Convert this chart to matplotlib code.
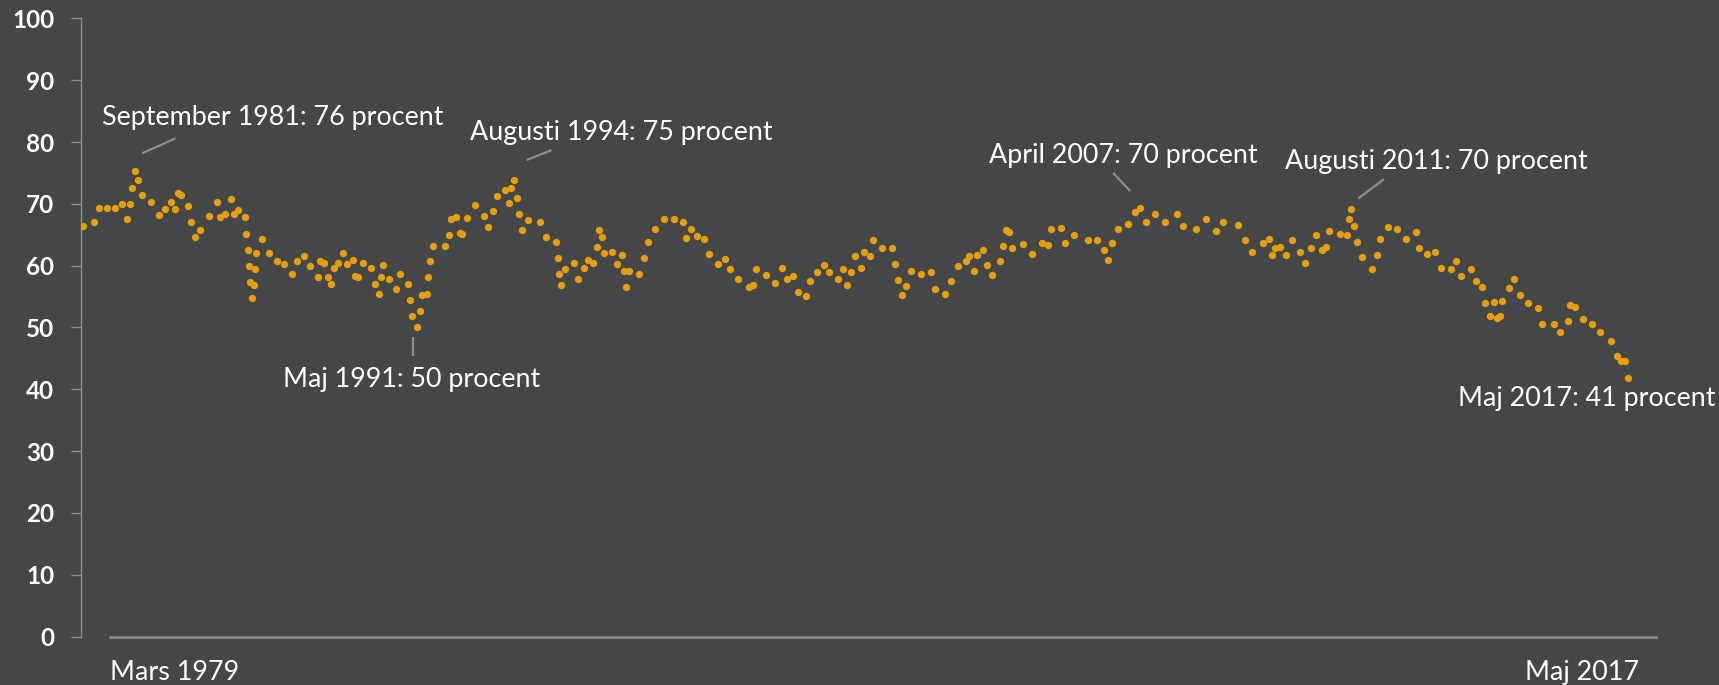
import matplotlib.pyplot as plt

# manad efter mars 1979 (0 = mars 1979, 458 = maj 2017) och andel i procent, avlast ur diagrammet
manad = [
    0.1, 3.4, 4.6, 7.1, 9.6, 11.6, 12.9, 13.8, 14.5, 15.3, 16.2, 17.6, 20.1, 22.6, 24.2,
    26.1, 27.3, 28.1, 29.1, 31.2, 32.1, 33.3, 34.7, 37.4, 39.7, 40.7, 42.2, 43.8, 44.9,
    46.0, 47.9, 48.3, 48.8, 49.2, 49.6, 50.2, 50.6, 51.0, 51.4, 53.0, 55.0, 57.4, 59.6,
    61.9, 63.4, 65.4, 67.2, 69.6, 70.4, 71.5, 72.7, 73.5, 74.3, 75.5, 77.0, 78.3, 79.9,
    80.7, 81.6, 83.0, 85.5, 86.6, 87.7, 88.2, 89.0, 90.7, 92.8, 93.9, 96.3, 97.0, 97.5,
    99.0, 99.8, 100.4, 101.9, 102.3, 102.8, 103.7, 107.2, 108.6, 109.2, 110.7, 111.9,
    112.5, 113.7, 116.2, 118.8, 120.0, 121.6, 122.8,
    125.0, 126.2, 126.9, 127.9, 128.8, 129.4, 130.0, 132.0, 135.4, 137.2, 140.3, 140.7,
    141.2, 141.8, 142.9, 145.5, 146.6, 148.4, 149.7, 151.3, 152.4, 153.0, 153.8, 154.5,
    156.8, 158.2, 159.7, 160.3, 160.9, 162.0, 164.8, 166.2, 167.5, 169.5, 172.3, 175.2,
    177.8, 178.7, 180.3, 182.1, 184.1, 185.6,
    188.3, 190.2, 191.9, 194.2, 197.5, 198.6, 199.5, 202.6, 205.1, 207.1, 208.7, 210.5,
    211.9, 214.3, 215.5, 217.6, 219.7, 221.3, 223.9, 225.4, 226.4, 227.8, 229.0, 230.5,
    231.5, 233.3, 234.1, 236.8, 239.7, 240.8, 241.5, 242.7, 244.1, 245.5, 248.5,
    251.4, 252.7, 255.5, 257.3, 259.3, 261.7, 262.8, 264.0, 265.1, 266.8, 268.0, 269.5,
    271.9, 272.8, 273.6, 274.5, 275.4, 278.7, 281.2, 284.2, 286.0, 286.9, 289.9, 291.0,
    293.9, 297.9, 300.5, 302.7, 303.9, 305.0, 306.9, 309.8, 311.9, 313.5,
    315.2, 317.8, 320.9, 324.4, 326.2, 330.1, 332.9, 336.0, 338.1, 342.4, 344.4, 346.5,
    349.8, 351.5, 352.4, 353.4, 355.0, 356.7, 358.4, 360.8, 362.2, 364.0, 365.6, 367.2,
    368.5, 369.4, 372.7, 374.6, 375.3, 376.0, 376.9, 377.8,
    379.1, 382.1, 383.6, 384.5, 386.8, 389.6, 392.1, 395.1, 396.1, 398.3, 400.8, 402.6,
    405.7, 407.0, 408.5, 411.4, 413.0, 414.8, 415.7, 417.0, 418.3, 419.2, 420.0, 420.6,
    422.7, 424.2, 425.9, 428.3, 431.4, 432.6, 436.0, 437.9, 440.3, 440.9, 442.2, 444.8,
    447.3, 449.7, 453.1, 454.9, 456.0, 457.1, 458.0,
]
procent = [
    66.4, 67.0, 69.4, 69.4, 69.4, 70.0, 67.5, 70.0, 72.6, 75.3, 73.9, 71.5, 70.3, 68.2, 69.1,
    70.3, 69.1, 71.7, 71.5, 69.7, 67.1, 64.6, 65.8, 68.0, 70.3, 67.9, 68.4, 70.8, 68.4,
    69.0, 67.8, 65.2, 62.6, 60.0, 57.4, 54.8, 56.9, 59.5, 62.1, 64.4, 62.0, 60.8, 60.2,
    58.7, 60.8, 61.6, 59.9, 58.2, 60.8, 60.5, 58.1, 57.0, 59.6, 60.5, 62.0, 60.3, 61.0,
    58.4, 58.2, 60.4, 59.6, 57.0, 55.5, 58.2, 60.1, 57.9, 56.2, 58.7, 57.1, 54.5, 51.9,
    50.0, 52.6, 55.2, 55.5, 58.1, 60.8, 63.2, 63.2, 65.0, 67.6, 67.8, 65.3,
    65.2, 67.7, 69.9, 68.0, 66.3, 68.8, 71.3,
    72.3, 70.1, 72.6, 73.8, 71.0, 68.4, 65.8, 67.4, 67.0, 64.6, 63.9, 61.3,
    58.7, 56.9, 59.5, 60.4, 57.9, 59.6, 61.0, 60.5, 63.1, 65.7, 64.6, 62.0,
    62.2, 60.2, 61.7, 59.1, 56.5, 59.1, 58.7, 61.3, 63.8, 65.9, 67.5, 67.5,
    67.1, 64.5, 65.9, 64.8, 64.4, 61.9,
    60.2, 61.1, 59.4, 57.9, 56.6, 56.9, 59.4, 58.5, 57.2, 59.6, 57.9, 58.3,
    55.8, 55.1, 57.6, 59.0, 60.1, 59.0, 57.9, 59.4, 56.8, 58.9, 61.5, 59.6,
    62.2, 61.6, 64.2, 62.9, 62.9, 60.3, 57.7, 55.2, 56.7, 59.2, 58.7,
    58.9, 56.3, 55.4, 57.6, 60.0, 60.8, 61.5, 59.1, 61.7, 62.6, 60.1, 58.5,
    60.7, 63.2, 65.8, 65.5, 62.9, 63.5, 61.9, 63.7, 63.4, 65.9, 66.1, 63.6,
    64.9, 64.2, 64.1, 62.6, 61.0, 63.6, 66.0, 66.7, 68.7, 69.4,
    67.0, 68.3, 67.1, 68.4, 66.5, 66.0, 67.5, 65.6, 67.0, 66.6, 64.2, 62.2,
    63.6, 64.4, 61.8, 62.8, 63.1, 61.7, 64.1, 62.2, 60.4, 62.9, 65.0, 62.6,
    63.1, 65.6, 65.1, 64.9, 67.6, 69.1, 66.5, 63.9,
    61.4, 59.4, 61.8, 64.4, 66.2, 66.0, 64.4, 65.4, 62.8, 61.9, 62.2, 59.7,
    59.4, 60.8, 58.3, 59.5, 57.6, 56.6, 54.0, 51.8, 54.1, 51.5, 51.8, 54.3,
    56.4, 57.8, 55.3, 54.0, 53.1, 50.5, 50.5, 49.2, 51.1, 53.7, 53.3, 51.4,
    50.5, 49.3, 47.8, 45.4, 44.5, 44.5, 41.9,
]

annot_texter = ["September 1981: 76 procent", "Maj 1991: 50 procent",
                "Augusti 1994: 75 procent", "April 2007: 70 procent",
                "Augusti 2011: 70 procent", "Maj 2017: 41 procent"]
annot_x = [5.5, 59.3, 114.7, 268.6, 356.4, 407.5]
annot_y = [82.8, 40.4, 80.3, 76.6, 75.6, 37.3]
# hanvisningslinjer (start, slut)
linje_x = [(17.6, 27.4), (97.8, 97.8), (131.5, 138.9), (305.4, 310.4), (378.1, 385.7)]
linje_y = [(78.2, 80.6), (48.5, 45.4), (77.1, 78.7), (75.0, 72.1), (70.9, 74.0)]

bg = '#454648'
guld = '#E39F10'
gra = '#8e8e8e'

plt.rcParams['font.family'] = ['Lato', 'DejaVu Sans']

fig = plt.figure(figsize=(17.19, 6.85), dpi=100, facecolor=bg)
ax = fig.add_axes([0.04695, 0.0708, 0.9187, 0.9022])
ax.set_facecolor(bg)

ax.scatter(manad, procent, s=28, color=guld, linewidths=0, zorder=3)

for lx, ly in zip(linje_x, linje_y):
    ax.plot(lx, ly, color=gra, lw=1.6, solid_capstyle='butt')
for t, x, y in zip(annot_texter, annot_x, annot_y):
    ax.text(x, y, t, color='white', fontsize=19.4, ha='left', va='baseline')

ax.set_xlim(-0.68, 467.5)
ax.set_ylim(0, 100)
ax.set_yticks(range(0, 101, 10))
ax.set_xticks([])
for lbl in ax.get_yticklabels():
    lbl.set_fontweight('bold')
ax.tick_params(axis='y', colors=gra, labelcolor='white', labelsize=17.5,
               length=7, width=1, pad=12)

for s in ['top', 'right']:
    ax.spines[s].set_visible(False)
ax.spines['left'].set_color(gra)
ax.spines['left'].set_linewidth(1)
ax.spines['bottom'].set_color(gra)
ax.spines['bottom'].set_linewidth(1.8)
ax.spines['bottom'].set_bounds(8, 466.4)

fig.text(110 / 1719, 5 / 685, "Mars 1979", color='white', fontsize=19.4, ha='left', va='baseline')
fig.text(1525 / 1719, 5 / 685, "Maj 2017", color='white', fontsize=19.4, ha='left', va='baseline')

fig.savefig('out.png', dpi=100, facecolor=bg)
